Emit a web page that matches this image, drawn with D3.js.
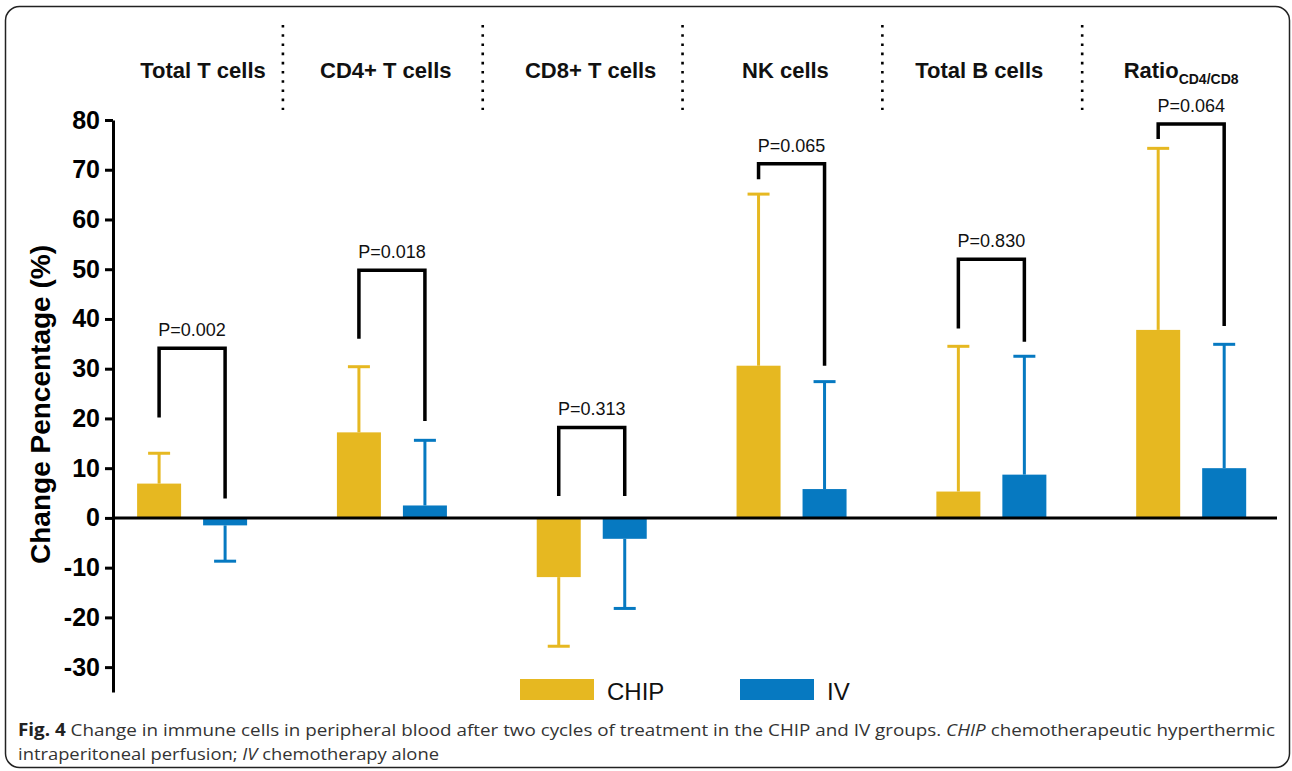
<!DOCTYPE html>
<html>
<head>
<meta charset="utf-8">
<script src="https://cdn.jsdelivr.net/npm/d3@7"></script>
<style>
  html, body { margin: 0; padding: 0; background: #fff; }
  svg { display: block; }
</style>
</head>
<body>
<svg id="chart" width="1292" height="771"></svg>
<script>
// ---- data ----
const categories = ["Total T cells", "CD4+ T cells", "CD8+ T cells", "NK cells", "Total B cells", "Ratio"];
const series = ["CHIP", "IV"];
const chipMean = [6.9, 17.2, -11.9, 30.6, 5.3, 37.8];
const chipErrEnd = [13.0, 30.4, -25.8, 65.1, 34.5, 74.3];
const ivMean = [-1.5, 2.5, -4.2, 5.8, 8.7, 10.0];
const ivErrEnd = [-8.7, 15.6, -18.2, 27.4, 32.5, 34.9];
const pValues = ["P=0.002", "P=0.018", "P=0.313", "P=0.065", "P=0.830", "P=0.064"];
const bracketTop = [34.1, 49.8, 18.2, 71.2, 52.0, 79.2];
const bracketLeftEnd = [20.2, 36.0, 4.4, 68.1, 38.1, 76.2];
const bracketRightEnd = [3.9, 19.5, 4.4, 30.6, 35.4, 38.6];
const yTicks = [-30, -20, -10, 0, 10, 20, 30, 40, 50, 60, 70, 80];

const colors = { CHIP: "#E6B821", IV: "#0679C1" };

const svg = d3.select("#chart");

// border
svg.append("rect")
  .attr("x", 5.5).attr("y", 6.5).attr("width", 1284).attr("height", 761)
  .attr("rx", 14).attr("ry", 14)
  .attr("fill", "none").attr("stroke", "#222").attr("stroke-width", 1.5);

// scales
const y = d3.scaleLinear().domain([-35, 80]).range([692, 120]);
const x0 = d3.scaleBand().domain(categories).range([92.1, 1291]).padding(0);
const x1 = d3.scaleBand().domain(series).range([45, 155]).paddingInner(1 / 3).paddingOuter(0);

const rows = categories.map((c, i) => ({
  cat: c, i,
  vals: [
    { s: "CHIP", v: chipMean[i], e: chipErrEnd[i] },
    { s: "IV", v: ivMean[i], e: ivErrEnd[i] }
  ]
}));

// y axis
const yAxis = d3.axisLeft(y).tickValues(yTicks).tickFormat(d => String(d))
  .tickSize(8).tickSizeOuter(0).tickPadding(5);
const gy = svg.append("g").attr("transform", "translate(113,0)").call(yAxis);
gy.select(".domain").attr("stroke", "#000").attr("stroke-width", 3);
gy.selectAll(".tick line").attr("stroke", "#000").attr("stroke-width", 3);
gy.selectAll(".tick text")
  .attr("fill", "#000")
  .style("font-family", "'Liberation Sans', Arial, sans-serif")
  .style("font-weight", "bold")
  .style("font-size", "25px");

// y title
svg.append("text")
  .attr("transform", `translate(50,${y(22.8)}) rotate(-90)`)
  .attr("text-anchor", "middle")
  .style("font-family", "'Liberation Sans', Arial, sans-serif")
  .style("font-weight", "bold")
  .style("font-size", "28px")
  .attr("fill", "#000")
  .text("Change Pencentage (%)");

// groups
const g = svg.append("g");
const groups = g.selectAll("g.grp").data(rows).join("g")
  .attr("class", "grp")
  .attr("transform", d => `translate(${x0(d.cat)},0)`);

// bars
groups.selectAll("rect.bar").data(d => d.vals).join("rect")
  .attr("class", "bar")
  .attr("x", d => x1(d.s))
  .attr("width", x1.bandwidth())
  .attr("y", d => y(Math.max(0, d.v)))
  .attr("height", d => Math.abs(y(d.v) - y(0)))
  .attr("fill", d => colors[d.s]);

// error bars
const capW = 22;
groups.selectAll("line.err").data(d => d.vals).join("line")
  .attr("class", "err")
  .attr("x1", d => x1(d.s) + x1.bandwidth() / 2)
  .attr("x2", d => x1(d.s) + x1.bandwidth() / 2)
  .attr("y1", d => y(d.v))
  .attr("y2", d => y(d.e))
  .attr("stroke", d => colors[d.s]).attr("stroke-width", 3);
groups.selectAll("line.cap").data(d => d.vals).join("line")
  .attr("class", "cap")
  .attr("x1", d => x1(d.s) + x1.bandwidth() / 2 - capW / 2)
  .attr("x2", d => x1(d.s) + x1.bandwidth() / 2 + capW / 2)
  .attr("y1", d => y(d.e))
  .attr("y2", d => y(d.e))
  .attr("stroke", d => colors[d.s]).attr("stroke-width", 3);

// brackets
groups.append("path")
  .attr("d", d => {
    const xl = x1("CHIP") + x1.bandwidth() / 2;
    const xr = x1("IV") + x1.bandwidth() / 2;
    return `M${xl},${y(bracketLeftEnd[d.i])}V${y(bracketTop[d.i])}H${xr}V${y(bracketRightEnd[d.i])}`;
  })
  .attr("fill", "none").attr("stroke", "#000").attr("stroke-width", 3.5)
  .attr("stroke-linejoin", "miter");

groups.append("text")
  .attr("x", (x1("CHIP") + x1("IV") + x1.bandwidth()) / 2)
  .attr("y", d => y(bracketTop[d.i]) - 12)
  .attr("text-anchor", "middle")
  .style("font-family", "'Liberation Sans', Arial, sans-serif")
  .style("font-size", "18px")
  .attr("fill", "#111")
  .text(d => pValues[d.i]);

// zero line
svg.append("line")
  .attr("x1", 113).attr("x2", 1277)
  .attr("y1", y(0)).attr("y2", y(0))
  .attr("stroke", "#000").attr("stroke-width", 3);

// header labels
const headerOffsets = [11, -6, -1, -6, -12, -10];
const hdr = svg.append("g");
rows.forEach(d => {
  const t = hdr.append("text")
    .attr("x", x0(d.cat) + x0.bandwidth() / 2 + headerOffsets[d.i])
    .attr("y", 78)
    .attr("text-anchor", "middle")
    .style("font-family", "'Liberation Sans', Arial, sans-serif")
    .style("font-weight", "bold")
    .style("font-size", "22px")
    .attr("fill", "#111");
  if (d.cat === "Ratio") {
    t.append("tspan").text("Ratio");
    t.append("tspan").attr("dy", 6).style("font-size", "14px").text("CD4/CD8");
  } else {
    t.text(d.cat);
  }
});

// dotted separators
categories.slice(0, -1).forEach(c => {
  const xs = x0(c) + x0.bandwidth() - 9;
  svg.append("line")
    .attr("x1", xs).attr("x2", xs)
    .attr("y1", 25).attr("y2", 110)
    .attr("stroke", "#000").attr("stroke-width", 2.6)
    .attr("stroke-dasharray", "2.6,6.6")
    .attr("stroke-linecap", "butt");
});

// legend
const legendX = [520, 740];
series.forEach((s, i) => {
  svg.append("rect")
    .attr("x", legendX[i]).attr("y", 679)
    .attr("width", 74).attr("height", 21)
    .attr("fill", colors[s]);
  svg.append("text")
    .attr("x", legendX[i] + 87).attr("y", 700)
    .style("font-family", "'Liberation Sans', Arial, sans-serif")
    .style("font-size", "24px")
    .attr("fill", "#111")
    .text(s);
});

// caption
const capFont = "'Open Sans', 'Noto Sans', sans-serif";
const c1 = svg.append("text")
  .attr("x", 18).attr("y", 736)
  .attr("textLength", 1257).attr("lengthAdjust", "spacingAndGlyphs")
  .style("font-family", capFont).style("font-size", "17px").attr("fill", "#333");
c1.append("tspan").style("font-weight", "bold").attr("fill", "#222").text("Fig. 4");
c1.append("tspan").text(" Change in immune cells in peripheral blood after two cycles of treatment in the CHIP and IV groups. ");
c1.append("tspan").style("font-style", "italic").text("CHIP");
c1.append("tspan").text(" chemotherapeutic hyperthermic");

const c2 = svg.append("text")
  .attr("x", 18).attr("y", 760)
  .attr("textLength", 421).attr("lengthAdjust", "spacingAndGlyphs")
  .style("font-family", capFont).style("font-size", "17px").attr("fill", "#333");
c2.append("tspan").text("intraperitoneal perfusion; ");
c2.append("tspan").style("font-style", "italic").text("IV");
c2.append("tspan").text(" chemotherapy alone");
</script>
</body>
</html>
